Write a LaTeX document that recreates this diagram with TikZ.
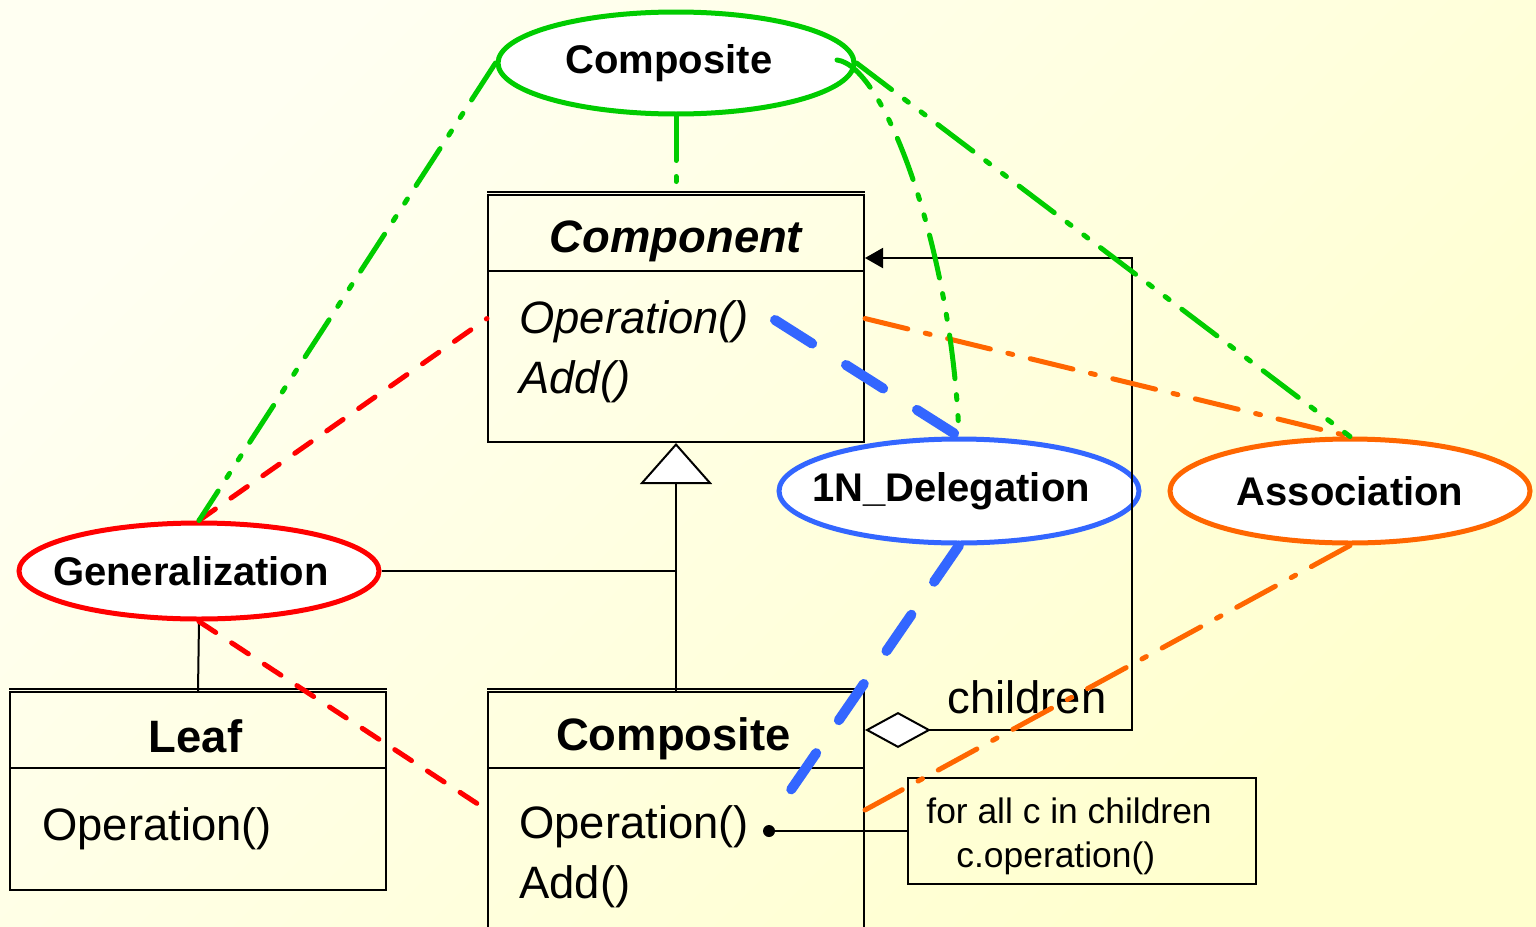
\documentclass[tikz,border=0pt]{standalone}
\usepackage{fontspec}
\setmainfont{Liberation Sans}
\usetikzlibrary{shapes.geometric,arrows.meta,calc}
\definecolor{ggreen}{RGB}{0,204,0}
\definecolor{rred}{RGB}{255,0,0}
\definecolor{bblue}{RGB}{51,102,255}
\definecolor{oorange}{RGB}{255,102,0}
\definecolor{bgA}{RGB}{255,255,242}
\definecolor{bgB}{RGB}{255,255,206}
\newcommand\clsfont{\fontsize{22.7}{27}\selectfont}
\newcommand\lbl[2]{\makebox[0pt][c]{\hspace{#1}#2}}
\begin{document}
\begin{tikzpicture}[x=0.5pt,y=-0.5pt,
  patt/.style={ellipse, draw=#1, line width=2.5pt, fill=white, text=black, inner sep=0pt, font=\fontsize{20}{24}\selectfont\bfseries},
  cls/.style={draw, line width=1pt, inner sep=0pt},
  txt/.style={inner sep=0pt, font=\clsfont},
  conn/.style={line width=1pt},
  gline/.style={ggreen, line width=2.5pt, line cap=round, dash pattern=on 22pt off 8pt on 2.5pt off 8pt on 2.5pt off 8pt},
  rline/.style={rred, line width=2.5pt, line cap=round, dash pattern=on 10pt off 9.5pt},
  bline/.style={bblue, line width=5pt, line cap=round, dash pattern=on 22pt off 20pt},
  oline/.style={oorange, line width=2.5pt, line cap=round, dash pattern=on 22pt off 9pt on 2.5pt off 9pt},
]
\useasboundingbox (0,0) rectangle (1536,926);
\clip (0,0) rectangle (1536,926);
\shade[shading=axis, top color=bgA, bottom color=bgB, shading angle=45] (0,0) rectangle (1536,926);

% class boxes
\node[cls, minimum width=188pt, minimum height=123.5pt] (component) at (676,318.5) {};
\node[cls, minimum width=188pt, minimum height=124pt] (composite) at (676,816) {};
\node[cls, minimum width=188pt, minimum height=99pt] (leaf) at (198,791) {};
\foreach \b in {component,composite,leaf}{
  \draw[conn] ($(\b.north west)+(0,-2.5)$) -- ($(\b.north east)+(0,-2.5)$);
  \draw[conn] ($(\b.north west)+(0,77)$) -- ($(\b.north east)+(0,77)$);
}

% class texts
\node[txt, font=\clsfont\bfseries\itshape, anchor=base] (compT) at (676,252) {Component};
\node[txt, font=\clsfont\itshape, anchor=base west] (compOp) at (519,333) {Operation()};
\node[txt, font=\clsfont\itshape, anchor=base west] (compAdd) at (519,393) {Add()};
\node[txt, font=\clsfont\bfseries, anchor=base] (cpsT) at (673.5,750) {Composite};
\node[txt, anchor=base west] (cpsOp) at (519,838) {Operation()};
\node[txt, anchor=base west] (cpsAdd) at (519,898) {Add()};
\node[txt, font=\clsfont\bfseries, anchor=base] (leafT) at (195.5,752) {Leaf};
\node[txt, anchor=base west] (leafOp) at (42,840) {Operation()};

% pattern ellipses
\node[patt=ggreen, minimum width=178pt, minimum height=51pt] (top) at (676,63) {\lbl{-7pt}{Composite}};
\node[patt=rred, minimum width=180pt, minimum height=48pt] (gen) at (199,571) {\lbl{-8pt}{Generalization}};
\node[patt=bblue, minimum width=180pt, minimum height=52pt] (deleg) at (959,491) {\lbl{-8pt}{1N\_Delegation}};
\node[patt=oorange, minimum width=180pt, minimum height=52pt] (assoc) at (1350,491) {\lbl{0pt}{Association}};

% UML connectors
\draw[conn] (leaf.north) -- (gen.south);
\draw[conn, -{Triangle[fill=white,length=20.5pt,width=36pt]}] (composite.north) -- (component.south);
\draw[conn] (gen.east) -- (gen.east -| composite.north);
\coordinate (aggr) at (1132,730);
\coordinate (aggtop) at (1132,258);
\draw[conn, {Diamond[fill=white,length=33pt,width=18pt]}-{Triangle[length=9pt,width=10pt]}]
  (composite.east |- aggr) -- (aggr) -- (aggtop) -- (component.east |- aggtop);
\node[txt, anchor=base west] (childrenL) at (947,713) {children};

% note
\node[cls, minimum width=174pt, minimum height=53pt] (note) at (1082,831) {};
\node[inner sep=0pt, font=\fontsize{17.7}{21}\selectfont, anchor=base west] (note1) at (926,823) {for all c in children};
\node[inner sep=0pt, font=\fontsize{17.7}{21}\selectfont, anchor=base west] (note2) at (956,867) {c.operation()};
\node[circle, fill=black, inner sep=0pt, minimum size=6pt] (dot) at (769,831) {};
\draw[conn] (dot) -- (note.west |- dot);

% role lines
\coordinate (opA) at (775,320);
\coordinate (opB) at (786,797);
\coordinate (rB) at (0,810);
\coordinate (g1) at (837,60);

\draw[rline] (gen.north) -- (component.west);
\draw[rline] (gen.south) -- (composite.west |- rB);

\draw[oline] (component.east) -- (assoc.north);
\draw[oline] (assoc.south) -- (composite.east |- rB);

\draw[bline] (opA) -- (deleg.north);
\draw[bline] (deleg.south) -- (opB);

\draw[gline] (top.west) -- (gen.north);
\draw[gline] (top.south) -- (component.north);
\draw[gline] (top.east) -- (assoc.north);
\draw[gline] (g1) .. controls (885,66) and (952,250) .. (deleg.north);
\end{tikzpicture}
\end{document}
